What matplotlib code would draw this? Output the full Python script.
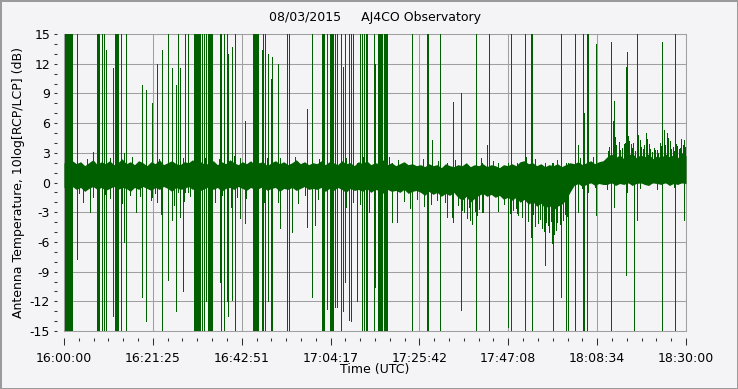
import numpy as np
import matplotlib
matplotlib.use("Agg")
import matplotlib.pyplot as plt
from matplotlib.ticker import FixedLocator, MultipleLocator, AutoMinorLocator

plt.rcParams['font.family'] = 'DejaVu Sans'
plt.rcParams['axes.unicode_minus'] = False

title = "08/03/2015     AJ4CO Observatory"
xlabel = "Time (UTC)"
ylabel = "Antenna Temperature, 10log[RCP/LCP] (dB)"
xtick_labels = ["16:00:00", "16:21:25", "16:42:51", "17:04:17",
                "17:25:42", "17:47:08", "18:08:34", "18:30:00"]

# time axis in minutes after 16:00:00 UTC
# dense noise band, one knot per minute (0..150)
band_t = np.arange(0, 151, 1)
band_hi = [2.0, 1.8, 2.2, 1.9, 2.1, 1.7, 2.0, 2.3, 1.8, 2.1,
           1.9, 2.2, 1.8, 2.0, 2.4, 1.9, 2.1, 1.8, 2.2, 2.0,
           1.7, 2.1, 1.9, 2.3, 1.8, 2.0, 2.2, 1.9, 1.8, 2.1,
           2.0, 2.3, 1.9, 2.1, 1.8, 2.0, 2.2, 1.8, 2.1, 1.9,
           2.3, 2.0, 1.8, 2.1, 1.9, 2.2, 1.8, 2.0, 2.1, 1.7,
           2.0, 2.2, 1.9, 2.1, 1.8, 2.0, 2.3, 1.9, 2.1, 1.8,
           2.0,
           1.9, 2.2, 1.8, 2.1, 2.0, 1.8, 2.2, 1.9, 2.0, 1.7, 2.1, 1.9, 2.2,
           1.8, 2.0, 1.9, 2.3, 1.8, 2.0, 1.7, 1.9, 2.1, 1.8, 1.9, 1.7,
           1.8, 1.6, 1.9, 1.7, 1.8, 1.5, 1.9, 1.7, 1.6, 1.8, 1.7, 2.0, 1.6,
           1.8, 1.7, 1.9, 1.6, 1.8, 1.7, 1.5, 1.8, 1.7,
           1.9, 1.7, 2.1, 2.2, 1.9, 2.0, 1.7, 1.9, 1.6, 1.8, 1.7, 1.9, 1.6,
           1.8, 2.0,
           1.9, 2.1, 1.8, 2.0, 2.2, 1.9, 2.1, 2.2,
           2.6, 2.9, 2.5, 2.8, 2.4, 2.7, 3.0, 2.5, 2.8, 2.6, 2.9, 2.4, 2.7,
           2.5, 2.9, 2.6, 2.8, 2.5, 3.0, 2.7]
band_lo = [-0.5, -0.8, -0.4, -0.7, -0.5, -0.9, -0.6, -0.4, -0.7, -0.5,
           -0.8, -0.6, -0.4, -0.7, -0.5, -0.6, -0.9, -0.5, -0.7, -0.4,
           -0.6, -0.8, -0.5, -0.7, -0.4, -0.6, -0.9, -0.5, -0.7, -0.6,
           -0.4, -0.7, -0.5, -0.8, -0.6, -0.4, -0.7, -0.5, -0.9, -0.6,
           -0.5, -0.7, -0.4, -0.6, -0.8, -0.5, -0.7, -0.6, -0.4, -0.8,
           -0.6, -0.5, -0.9, -0.6, -0.7, -0.5, -0.8, -0.6, -0.4, -0.7,
           -0.6,
           -0.7, -0.5, -0.9, -0.6, -0.8, -0.5, -0.7, -1.0, -0.6, -0.8, -0.7,
           -0.9, -0.6, -1.0, -0.7, -0.8, -1.1, -0.7, -0.9, -0.8, -1.0, -0.7,
           -1.1, -0.9, -0.8,
           -1.0, -1.3, -0.9, -1.2, -1.0, -1.4, -1.1, -1.3, -1.0, -1.5, -1.8,
           -1.4, -2.0, -1.6, -1.3, -1.1, -1.4, -1.2, -1.5, -1.3, -1.7, -1.5,
           -1.8, -1.5, -2.0, -1.7, -2.2, -1.9, -2.4, -2.1, -2.6, -2.3, -2.8,
           -2.4, -2.2, -1.8, -1.0,
           -0.3, -0.1, -0.4, -0.2, 0.0, -0.3, -0.1, -0.2,
           -0.2, 0.0, -0.3, -0.1, -0.2, 0.0, -0.3, -0.1, 0.0, -0.2, -0.3,
           0.0, -0.1, -0.2, 0.0, -0.3, -0.1, -0.2, 0.0, -0.1]

# short excursions out of the band (start inside the band)
fuzz_up_t = [5.5, 7.0, 11.0, 16.5, 22.8, 27.0, 33.9, 37.4, 41.0, 49.0, 52.0,
             55.6, 58.7, 61.5, 68.0, 72.0, 78.3, 80.5, 84.0, 86.5, 90.2, 94.3,
             100.6, 103.5, 111.5, 113.5, 119.0, 124.5, 127.5,
             131.2, 131.5, 132.0, 132.3, 132.9, 133.0, 133.8, 134.1, 134.5,
             135.0, 135.3, 135.6, 136.0, 136.3, 136.7, 137.0, 137.3, 137.7,
             138.1, 138.4, 138.8, 139.2, 139.6, 139.9, 140.3, 140.7, 141.0,
             141.4, 141.8, 142.2, 142.5, 143.0, 143.3, 143.7, 144.0, 144.3,
             144.7, 145.0, 145.4, 145.7, 146.1, 146.4, 146.8, 147.2, 147.5,
             147.9, 148.2, 148.6, 148.9, 149.2, 149.5, 149.8]
fuzz_up_v = [2.4, 3.1, 2.5, 2.6, 2.4, 2.6, 2.5, 2.4, 2.7, 2.5, 2.3,
             2.6, 2.4, 2.4, 2.5, 2.6, 2.6, 2.3, 2.2, 2.4, 2.2, 2.3,
             2.5, 2.2, 2.6, 2.4, 2.3, 2.5, 2.6,
             3.2, 3.6, 3.4, 6.2, 4.6, 3.8, 4.1, 3.3, 3.5,
             3.9, 4.0, 3.1, 4.7, 4.2, 3.9, 3.5, 4.0, 3.2,
             3.6, 4.8, 4.3, 3.6, 3.4, 3.8, 5.0, 4.4, 3.9,
             3.4, 3.1, 3.5, 3.3, 3.3, 3.0, 4.0, 3.7, 4.6,
             5.3, 3.8, 5.0, 4.5, 4.2, 3.4, 3.6, 3.2, 3.9,
             3.7, 3.4, 3.5, 4.4, 3.8, 4.3, 3.6]
fuzz_dn_t = [3.5, 4.5, 6.3, 7.0, 9.9, 11.0, 13.9, 16.0, 17.3, 18.3, 21.1,
             22.0, 23.5, 25.0, 26.5, 28.0, 29.0, 30.5, 33.8, 36.5, 38.2, 40.3,
             41.8, 43.9, 48.2, 49.8, 53.7, 54.9, 56.5, 58.1, 60.5, 61.3,
             63.5, 66.8, 68.0, 69.3, 71.5, 72.8, 73.5, 75.0, 79.0, 80.3, 82.0,
             83.5, 85.2, 86.8, 88.5, 89.9, 92.0, 93.5, 95.0, 96.0, 96.5, 97.2,
             97.6, 98.0, 98.5, 99.0, 99.6, 100.2,
             101.0, 102.5, 104.6, 106.0, 107.5, 108.4, 109.0, 109.6, 110.5,
             111.2, 112.0, 112.5, 113.0, 113.6, 114.2, 114.8, 115.3, 115.8,
             116.2, 116.6, 117.0, 117.4, 117.8, 118.2, 118.6, 119.0, 119.5,
             119.9, 120.4, 120.8, 121.2, 121.6,
             125.0, 128.0, 131.0, 139.0, 143.0, 147.0]
fuzz_dn_v = [-1.1, -2.0, -3.0, -1.5, -1.2, -1.6, -2.1, -1.3, -3.0, -1.4, -1.8,
             -1.1, -3.2, -1.5, -2.3, -1.2, -1.9, -1.4, -1.7, -2.0, -1.3, -2.5,
             -1.5, -1.6, -2.0, -1.4, -1.6, -5.0, -2.1, -1.3, -4.3, -1.7,
             -2.0, -1.5, -2.5, -1.6, -2.2, -1.8, -3.0, -1.4, -2.8, -4.0, -1.9,
             -2.6, -1.7, -2.4, -2.2, -1.8, -2.0, -3.5, -2.3, -2.8, -3.0, -3.6,
             -2.5, -3.8, -4.2, -2.9, -3.3, -2.7,
             -3.0, -2.1, -2.9, -2.2, -3.1, -2.8, -2.6, -3.3, -3.5,
             -2.9, -3.9, -3.6, -3.2, -4.4, -4.1, -3.7, -4.6, -4.9,
             -4.0, -4.3, -5.0, -3.9, -4.4, -5.2, -4.8, -4.0, -4.2,
             -4.5, -3.8, -3.2, -3.4, -2.6,
             -0.6, -0.5, -0.7, -0.6, -0.7, -0.5]

# interference spikes: time, top, bottom (dB)
spike_t = [3.14, 9.16, 9.53, 10.13, 11.70, 13.75, 14.47, 14.95, 18.74, 19.70,
           21.34, 22.43, 23.63, 25.08, 26.05, 26.94, 27.49, 27.97, 28.62,
           29.29, 30.02, 33.28, 33.76, 34.24, 37.60, 37.98, 38.59, 39.24,
           39.55, 40.44, 41.24, 42.44, 43.77, 47.75, 48.11, 48.47, 49.20,
           49.85, 50.16, 51.61, 52.09, 53.78, 54.14, 54.26, 58.53, 59.88,
           63.42, 65.35, 65.72, 66.73, 67.21, 67.77, 68.73, 69.14, 69.69,
           70.59, 71.38, 71.87, 72.23, 72.71, 73.19, 74.64, 75.12, 79.10,
           83.92, 87.42, 87.73, 88.75, 90.68, 92.29, 93.81, 95.74, 99.24,
           100.73, 101.94, 102.49, 104.66, 107.07, 107.68, 109.17, 111.17,
           112.62, 112.86, 115.99, 117.61, 117.93, 119.86, 121.06, 121.54,
           123.35, 123.96, 125.16, 125.52, 126.01, 126.37, 128.25, 131.91,
           132.64, 135.53, 135.77, 137.46, 138.18, 144.14, 147.35, 149.52]
spike_top = [15, 15, 15, 13.4, 11.6, 15, 3, 15, 9.8, 9.3,
             8, 12, 13.4, 15, 11.6, 9.8, 15, 11.6, 2.5,
             15, 15, 15, 15, 15, 15, 15, 15, 15,
             13, 13.7, 15, 2.5, 6.2, 13.4, 15, 15, 13,
             10.5, 12.7, 12, 2.5, 15, 15, 2.5, 7.4, 15,
             15, 15, 15, 15, 11.7, 15, 15, 15, 15,
             2, 15, 15, 15, 15, 15, 15, 12, 2,
             15, 15, 15, 4.3, 15, 2, 8.1, 9, 15,
             2, 3.8, 15, 2, 2, 15, 2, 15,
             15, 15, 2, 2, 2, 15, 2, 2,
             15, 3.8, 15, 7, 15, 15, 14, 14.2,
             8.2, 11.7, 13.2, 2, 15, 14.2, 15, 4]
spike_bot = [-7.7, -15, -15, -15, -13.5, -15, -6, -15, -11.6, -14,
             -1.5, -2, -15, -9.8, -3.8, -13, -1, -3.5, -11,
             -1, -1, -15, -15, -12, -10, -15, -15, -12,
             -13.5, -11.9, -15, -3.6, -4.1, -15, -15, -15, -12,
             -15, -15, -2, -4.6, -15, -15, -5, -4.5, -11.6,
             -12.8, -12.6, -12.6, -15, -13, -10, -13.9, -14, -2,
             -12, -1, -15, -15, -15, -15, -15, -10.6, -4,
             -15, -15, -15, -1, -15, -3.5, -4, -12.9, -15,
             -3, -1, -15, -2.9, -14.6, -15, -3.1, -15,
             -5.5, -15, -8.3, -6.1, -15, -11.6, -15, -15,
             -15, -3, -15, -15, -15, -1, -3.3, -15,
             -2.5, -9.3, -1, -15, -3.8, -15, -15, -3.8]

# dense bursts that fill the whole scale
burst_start = [0.24, 7.96, 12.30, 31.47, 34.73, 45.46, 62.10, 64.15, 75.72, 77.17]
burst_end = [2.05, 8.80, 13.38, 32.92, 36.05, 46.91, 62.94, 65.11, 76.81, 78.14]

green = '#006000'
gridc = '#a0a0a0'
bg = '#f4f4f6'

fig = plt.figure(figsize=(7.38, 3.89), dpi=100)
fig.patch.set_facecolor(bg)
fig.patch.set_edgecolor('#9a9a9a')
fig.patch.set_linewidth(2)

ax = fig.add_axes([64/738, 58/389, 622/738, 297/389])
ax.set_facecolor(bg)
ax.set_xlim(0, 150)
ax.set_ylim(-15, 15)

ax.fill_between(band_t, band_lo, band_hi, color=green, lw=0, zorder=3)
ax.vlines(fuzz_up_t, 0.8, fuzz_up_v, color=green, lw=0.5,
          antialiased=False, zorder=3)
ax.vlines(fuzz_dn_t, 0.8, fuzz_dn_v, color=green, lw=0.5,
          antialiased=False, zorder=3)
ax.vlines(spike_t, spike_bot, spike_top, color=green, lw=0.5,
          antialiased=False, zorder=3)
for s, e in zip(burst_start, burst_end):
    ax.fill_between([s, e], -15, 15, color=green, lw=0, zorder=3)

# axes, ticks, grid
ax.xaxis.set_major_locator(FixedLocator(np.linspace(0, 150, 8)))
ax.set_xticklabels(xtick_labels)
ax.xaxis.set_minor_locator(AutoMinorLocator(6))
ax.yaxis.set_major_locator(MultipleLocator(3))
ax.yaxis.set_minor_locator(MultipleLocator(1))
ax.grid(True, which='major', color=gridc, lw=0.75)
ax.set_axisbelow(True)

for side in ['left', 'bottom']:
    ax.spines[side].set_position(('outward', 5))
    ax.spines[side].set_visible(False)
for side in ['top', 'right']:
    ax.spines[side].set_color(gridc)
    ax.spines[side].set_linewidth(0.75)
ax.axvline(0, color=gridc, lw=0.75, clip_on=False, zorder=1)
ax.axhline(-15, color=gridc, lw=0.75, clip_on=False, zorder=1)

ax.tick_params(axis='x', which='major', length=5, width=0.75, pad=5,
               labelsize=9, color='#303030')
ax.tick_params(axis='x', which='minor', length=2, width=0.75, color='#303030')
ax.tick_params(axis='y', which='both', length=2, width=0.75, pad=3,
               labelsize=9, color='#303030')

ax.set_xlabel(xlabel, fontsize=9)
ax.xaxis.set_label_coords(0.5, -0.108)
ax.set_ylabel(ylabel, fontsize=9)
ax.yaxis.set_label_coords(-0.062, 0.5)

fig.text(375/738, 1 - 18/389, title, ha='center', va='center', fontsize=9)

fig.savefig('out.png', dpi=100, facecolor=fig.get_facecolor(),
            edgecolor=fig.get_edgecolor())
